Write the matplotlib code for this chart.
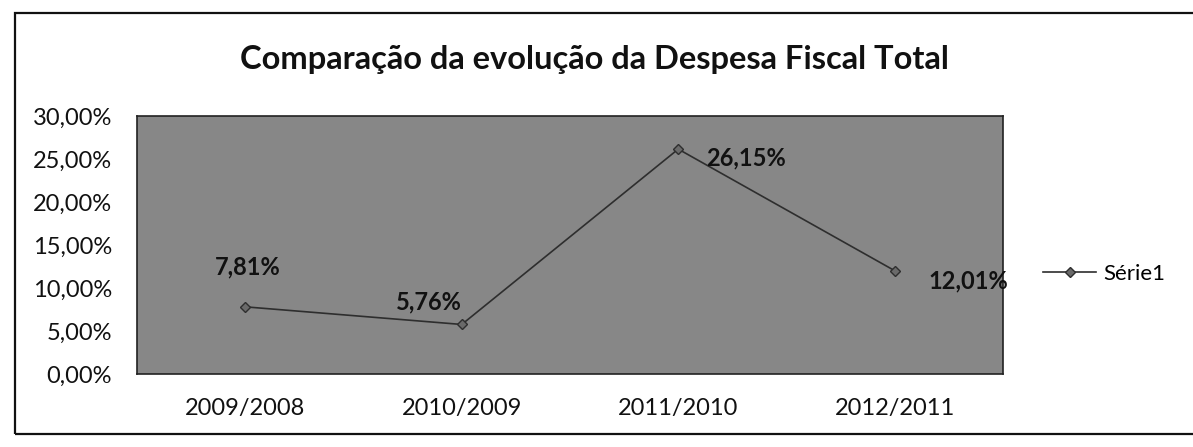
import matplotlib.pyplot as plt
from matplotlib.patches import Rectangle
from matplotlib.ticker import FuncFormatter, MultipleLocator

plt.rcParams['font.family'] = ['Lato', 'DejaVu Sans']

# Data
periods = ['2009/2008', '2010/2009', '2011/2010', '2012/2011']
growth = [7.81, 5.76, 26.15, 12.01]
series_name = 'Série1'
title = 'Comparação da evolução da Despesa Fiscal Total'

# label offsets in points (moved by hand in the original)
label_offsets = [(2, 29), (-24, 16), (49, -6), (53, -7)]

fig = plt.figure(figsize=(11.93, 4.47), dpi=100)
ax = fig.add_axes([137 / 1193, 1 - 374 / 447, 866 / 1193, 258 / 447])
ax.set_facecolor('#878787')

x = range(len(periods))
ax.plot(x, growth, color='#2e2e2e', lw=1.2, marker='D', markersize=5,
        markerfacecolor='#6a6a6a', markeredgecolor='#2e2e2e', label=series_name)

for i, v in enumerate(growth):
    txt = f'{v:.2f}%'.replace('.', ',')
    ax.annotate(txt, (i, v), xytext=label_offsets[i], textcoords='offset points',
                ha='center', va='center', fontsize=17, fontweight='bold', color='#111111')

ax.set_xlim(-0.5, len(periods) - 0.5)
ax.set_ylim(0, 30)
ax.yaxis.set_major_locator(MultipleLocator(5))
ax.yaxis.set_major_formatter(FuncFormatter(lambda v, p: f'{v:.2f}%'.replace('.', ',')))
ax.set_xticks(list(x))
ax.set_xticklabels(periods)
ax.tick_params(axis='y', length=0, pad=18, labelsize=17, colors='#111111')
ax.tick_params(axis='x', length=0, pad=17, labelsize=17, colors='#111111')
for s in ax.spines.values():
    s.set_color('#222222')
    s.set_linewidth(1.2)

fig.text(594 / 1193, 1 - 60 / 447, title, ha='center', va='center',
         fontsize=23.5, fontweight='bold', color='#111111')

fig.legend(loc='center left', bbox_to_anchor=(1043 / 1193, 1 - 274 / 447),
           frameon=False, fontsize=16, handlelength=2.4, handletextpad=0.3,
           borderpad=0, borderaxespad=0)

# outer chart frame
fig.add_artist(Rectangle((15 / 1193, 1 - 434 / 447), 1.0, 421 / 447,
                         transform=fig.transFigure, fill=False, lw=1.6,
                         edgecolor='#111111'))

fig.savefig('out.png', dpi=100)
